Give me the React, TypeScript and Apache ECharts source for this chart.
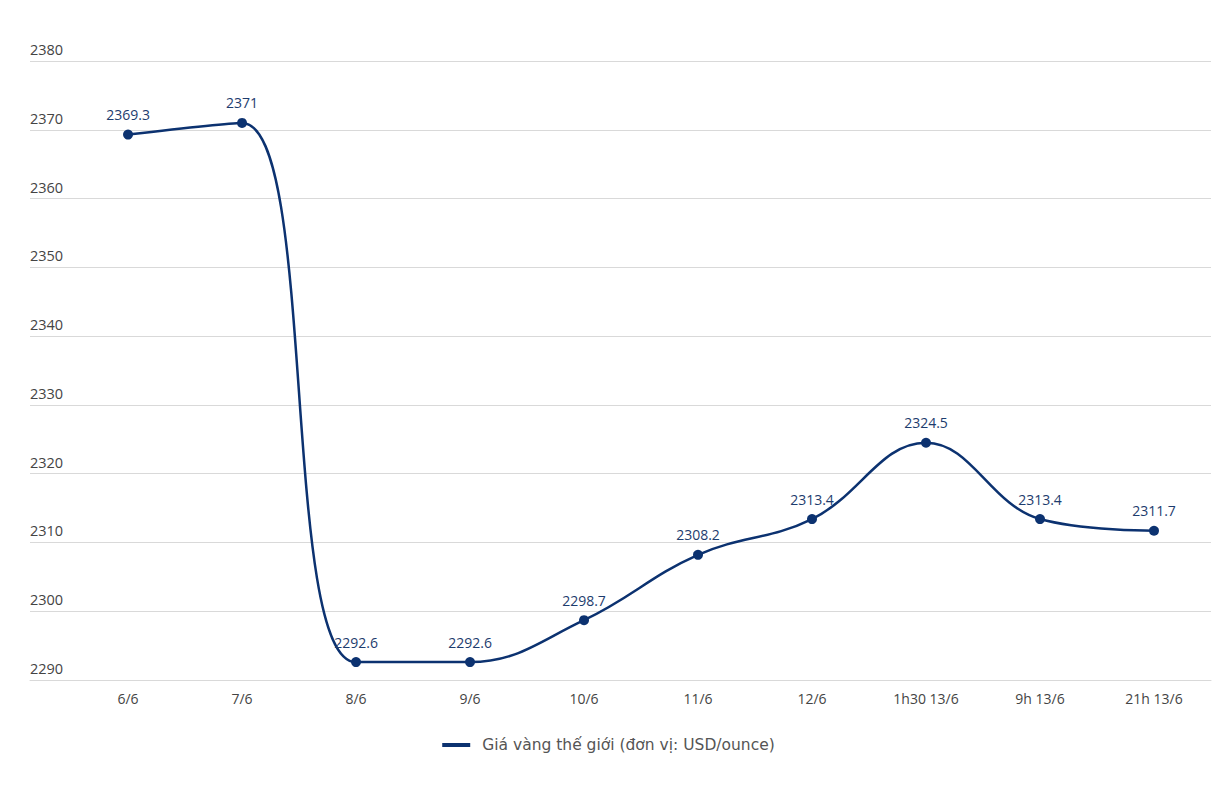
import React, { useEffect, useRef } from "react";
import * as echarts from "echarts";

const categories = ["6/6", "7/6", "8/6", "9/6", "10/6", "11/6", "12/6", "1h30 13/6", "9h 13/6", "21h 13/6"];
const prices = [2369.3, 2371, 2292.6, 2292.6, 2298.7, 2308.2, 2313.4, 2324.5, 2313.4, 2311.7];
const seriesName = "Giá vàng thế giới (đơn vị: USD/ounce)";
const yMin = 2290;
const yMax = 2380;
const yStep = 10;

export default function App() {
  const ref = useRef<HTMLDivElement>(null);
  useEffect(() => {
    document.body.style.margin = "0";
    const chart = echarts.init(ref.current!, null, { renderer: "svg" });
    const color = "#0c3270";
    chart.setOption({
      animation: false,
      backgroundColor: "#ffffff",
      textStyle: { fontFamily: "Open Sans" },
      grid: { left: 30, right: 6, top: 61, bottom: 111 },
      xAxis: {
        type: "value",
        min: -0.86,
        max: 9.5,
        splitLine: { show: false },
        axisLine: { show: true, lineStyle: { color: "#d9d9d9", width: 1 } },
        axisTick: { show: false },
        axisLabel: {
          customValues: categories.map((_, i) => i),
          formatter: (v: number) => categories[Math.round(v)] ?? "",
          color: "#444",
          fontSize: 14,
          margin: 11,
          fontFamily: "Open Sans",
        },
      },
      yAxis: {
        type: "value",
        min: yMin,
        max: yMax,
        interval: yStep,
        axisLine: { show: false },
        axisTick: { show: false },
        splitLine: { lineStyle: { color: "#d9d9d9", width: 1 } },
        axisLabel: {
          inside: true,
          margin: 0,
          align: "left",
          verticalAlign: "bottom",
          padding: [0, 0, 4, 0],
          color: "#444",
          fontSize: 14.5,
          fontFamily: "Open Sans",
          formatter: (v: number) => String(v),
        },
      },
      legend: {
        bottom: 33,
        left: "center",
        icon: "rect",
        itemWidth: 28,
        itemHeight: 4,
        itemGap: 10,
        textStyle: { color: "#555", fontSize: 15.5, fontFamily: "DejaVu Sans", padding: [0, 0, 0, 7] },
        data: [seriesName],
      },
      series: [
        {
          name: seriesName,
          type: "line",
          data: prices.map((p, i) => [i, p]),
          smooth: 0.4,
          symbol: "circle",
          symbolSize: 10,
          lineStyle: { color, width: 2.5 },
          itemStyle: { color },
          label: {
            show: true,
            position: "top",
            distance: 8,
            color: "#1d3c6e",
            fontSize: 14,
            fontFamily: "Open Sans",
          },
        },
      ],
    });
    return () => chart.dispose();
  }, []);
  return <div ref={ref} style={{ width: 1217, height: 791 }} />;
}
